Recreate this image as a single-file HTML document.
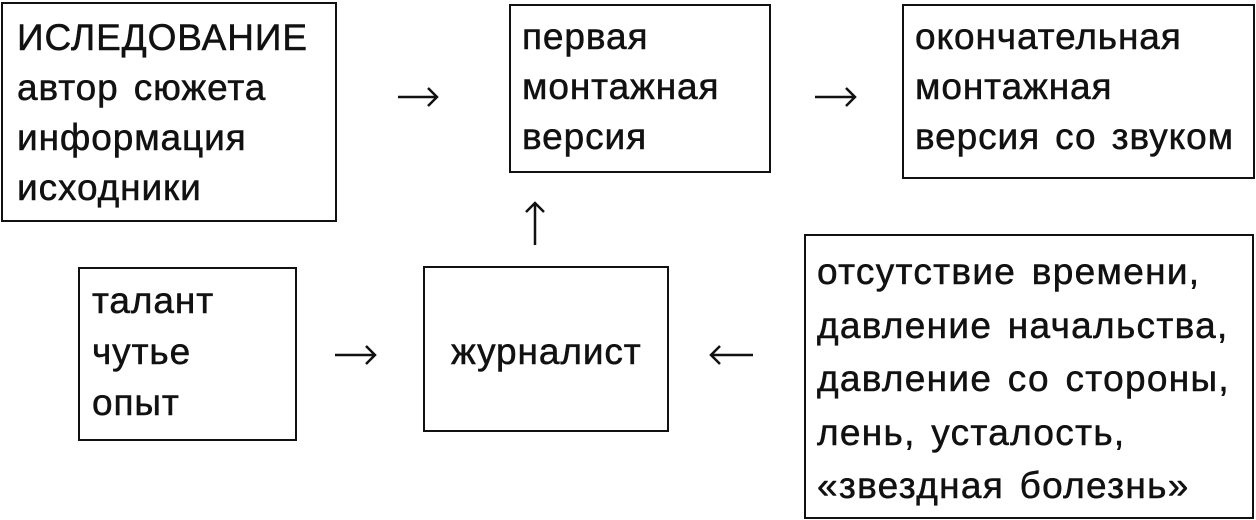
<!DOCTYPE html>
<html><head><meta charset="utf-8"><style>
body{margin:0;width:1256px;height:520px;background:#fff;position:relative;overflow:hidden;font-family:"Liberation Sans","DejaVu Sans",sans-serif;color:#111}
.b{position:absolute;border:2px solid #111;box-sizing:border-box}
.t{position:absolute;font-size:37px;line-height:50px;white-space:nowrap;letter-spacing:0.9px;word-spacing:4px;-webkit-text-stroke:0.5px #111}
svg{position:absolute;left:0;top:0}
</style></head><body>
<div class="b" style="left:1px;top:2px;width:336px;height:220px"></div>
<div class="t" style="left:17px;top:13px">ИСЛЕДОВАНИЕ<br>автор сюжета<br>информация<br>исходники</div>

<div class="b" style="left:509px;top:4px;width:262px;height:169px"></div>
<div class="t" style="left:522px;top:12px">первая<br>монтажная<br>версия</div>

<div class="b" style="left:902px;top:4px;width:353px;height:175px"></div>
<div class="t" style="left:915px;top:12px">окончательная<br>монтажная<br>версия со звуком</div>

<div class="b" style="left:78px;top:267px;width:219px;height:174px"></div>
<div class="t" style="left:92px;top:275px;line-height:51px">талант<br>чутье<br>опыт</div>

<div class="b" style="left:423px;top:266px;width:246px;height:166px"></div>
<div class="t" style="left:451px;top:327px">журналист</div>

<div class="b" style="left:804px;top:234px;width:450px;height:285px"></div>
<div class="t" style="left:817px;top:245px;line-height:53.5px;letter-spacing:1.3px">отсутствие времени,<br>давление начальства,<br>давление со стороны,<br>лень, усталость,<br>«звездная болезнь»</div>

<svg width="1256" height="520" fill="none" stroke="#111" stroke-width="2.5">
<path d="M398 97H437M428 88L437 97L428 106"/>
<path d="M815 97H855M846 88L855 97L846 106"/>
<path d="M535 245V203M526 212L535 203L544 212"/>
<path d="M335 355H375M366 346L375 355L366 364"/>
<path d="M753 355H711M720 346L711 355L720 364"/>
</svg>
</body></html>
